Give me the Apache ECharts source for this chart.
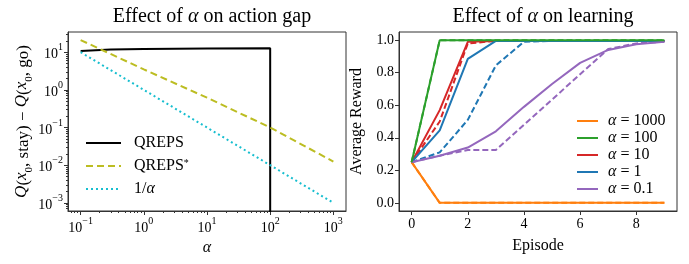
<!DOCTYPE html>
<html>
<head>
<meta charset="utf-8">
<script src="https://cdn.jsdelivr.net/npm/echarts@6/dist/echarts.min.js"></script>
<style>
html,body{margin:0;padding:0;background:#fff;}
#c{width:689px;height:264px;}
</style>
</head>
<body>
<div id="c"></div>
<script>
// ---------- Left panel data ----------
const gapAlpha = [0.1, 1, 10, 100, 1000];
const qrepsAlpha = [0.1, 0.3, 1, 10, 100, 100];
const qrepsGap = [10.8, 11.8, 12.2, 12.6, 12.8, 1e-9];
const qrepsStarGap = [21, 3.5, 0.62, 0.1, 0.0125];
const invAlphaGap = [10, 1, 0.1, 0.01, 0.001];
const leftXTicks = [0.1, 1, 10, 100, 1000];
const leftYTicks = [0.001, 0.01, 0.1, 1, 10];

// ---------- Right panel data ----------
const episodes = [0, 1, 2, 3, 4, 5, 6, 7, 8, 9];
const alphaLabels = ['1000', '100', '10', '1', '0.1'];
const solid1000 = [0.25, 0, 0, 0, 0, 0, 0, 0, 0, 0];
const dash1000  = [0.25, 0, 0, 0, 0, 0, 0, 0, 0, 0];
const solid100  = [0.25, 1, 1, 1, 1, 1, 1, 1, 1, 1];
const dash100   = [0.25, 1, 1, 1, 1, 1, 1, 1, 1, 1];
const solid10   = [0.25, 0.57, 0.99, 0.995, 0.995, 0.995, 0.995, 0.995, 0.995, 0.995];
const dash10    = [0.25, 0.50, 0.98, 0.995, 0.995, 0.995, 0.995, 0.995, 0.995, 0.995];
const solid1    = [0.25, 0.445, 0.885, 0.995, 0.995, 0.995, 0.995, 0.995, 0.995, 0.995];
const dash1     = [0.25, 0.31, 0.51, 0.845, 0.99, 0.995, 0.995, 0.995, 0.995, 0.995];
const solid01   = [0.25, 0.29, 0.34, 0.44, 0.59, 0.73, 0.86, 0.94, 0.975, 0.99];
const dash01    = [0.25, 0.29, 0.325, 0.325, 0.48, 0.635, 0.79, 0.945, 0.98, 0.99];
const rightYTicks = [0, 0.2, 0.4, 0.6, 0.8, 1.0];
const rightXTicks = [0, 2, 4, 6, 8];

const FONT = 'Liberation Serif';
const AX = '#333';

function minorTicks(lo, hi) {
  const out = [];
  for (let e = -5; e <= 5; e++) {
    for (let k = 2; k <= 9; k++) {
      const v = k * Math.pow(10, e);
      if (v > lo && v < hi) out.push(v);
    }
  }
  return out;
}
const xMin = Math.pow(10, -1.2), xMax = Math.pow(10, 3.2);
const yMin = Math.pow(10, -3.216), yMax = Math.pow(10, 1.536);

const supRich = {
  n: {fontFamily: FONT, fontSize: 14, color: '#000', verticalAlign: 'bottom', lineHeight: 19},
  s: {fontFamily: FONT, fontSize: 10, color: '#000', verticalAlign: 'top', lineHeight: 19}
};
function powLabel(v) {
  const e = Math.round(Math.log10(v));
  return '{n|10}{s|' + (e < 0 ? '\u2212' + (-e) : e) + '}';
}
const pairs = (xs, ys) => xs.map((x, i) => [x, ys[i]]);

const colors = ['#ff7f0e', '#2ca02c', '#d62728', '#1f77b4', '#9467bd'];
const solids = [solid1000, solid100, solid10, solid1, solid01];
const dashes = [dash1000, dash100, dash10, dash1, dash01];

const rightSeries = [];
const drawOrder = [0, 2, 3, 4, 1];
drawOrder.forEach(i => {
  rightSeries.push({
    type: 'line', name: 'a' + alphaLabels[i], xAxisIndex: 2, yAxisIndex: 2,
    data: pairs(episodes, dashes[i]), showSymbol: false, symbol: 'none',
    lineStyle: {color: colors[i], width: 2, type: [6, 3]}, itemStyle: {color: colors[i]},
    z: 3, animation: false, silent: true
  });
});
drawOrder.forEach(i => {
  rightSeries.push({
    type: 'line', name: '\u03b1' + alphaLabels[i], xAxisIndex: 2, yAxisIndex: 2,
    data: pairs(episodes, solids[i]), showSymbol: false, symbol: 'none',
    lineStyle: {color: colors[i], width: 2}, itemStyle: {color: colors[i]},
    z: i === 1 ? 5 : 4, animation: false, silent: true
  });
});

const chart = echarts.init(document.getElementById('c'), null, {renderer: 'canvas'});
chart.setOption({
  animation: false,
  backgroundColor: '#fff',
  title: [
    {text: 'Effect of {i|\u03b1} on action gap', left: 207, top: 2, textAlign: 'center',
     textStyle: {fontFamily: FONT, fontSize: 20, fontWeight: 'normal', color: '#000',
       rich: {i: {fontFamily: FONT, fontStyle: 'italic', fontSize: 20, color: '#000'}}}},
    {text: 'Effect of {i|\u03b1} on learning', left: 538, top: 2, textAlign: 'center',
     textStyle: {fontFamily: FONT, fontSize: 20, fontWeight: 'normal', color: '#000',
       rich: {i: {fontFamily: FONT, fontStyle: 'italic', fontSize: 20, color: '#000'}}}}
  ],
  grid: [
    {left: 68, top: 32, width: 278, height: 179, show: true, borderColor: AX, borderWidth: 1, backgroundColor: 'transparent'},
    {left: 399, top: 32, width: 278, height: 179, show: true, borderColor: AX, borderWidth: 1, backgroundColor: 'transparent'}
  ],
  legend: [
    {
      data: ['QREPS', 'QREPS*', '1/\u03b1'],
      orient: 'vertical', left: 80, top: 130, itemWidth: 35, itemHeight: 16, itemGap: 7, itemStyle: {opacity: 0},
      textStyle: {fontFamily: FONT, fontSize: 16, lineHeight: 16, color: '#000', padding: [0, 0, 0, 8],
        rich: {i: {fontFamily: FONT, fontStyle: 'italic', fontSize: 16, lineHeight: 16, color: '#000'},
               s: {fontFamily: FONT, fontSize: 10, color: '#000', verticalAlign: 'top', lineHeight: 16},
               n: {fontFamily: FONT, fontSize: 16, color: '#000', verticalAlign: 'bottom', lineHeight: 16}}},
      formatter: function (name) {
        if (name === 'QREPS*') return '{n|QREPS}{s|*}';
        if (name === '1/\u03b1') return '1/{i|\u03b1}';
        return name;
      },
      selectedMode: false
    },
    {
      data: alphaLabels.map(a => '\u03b1' + a),
      orient: 'vertical', left: 571, top: 108, itemWidth: 21, itemHeight: 14, itemGap: 1, itemStyle: {opacity: 0},
      textStyle: {fontFamily: FONT, fontSize: 16, lineHeight: 14, color: '#000', padding: [0, 0, 0, 5],
        rich: {i: {fontFamily: FONT, fontStyle: 'italic', fontSize: 16, lineHeight: 14, color: '#000'}}},
      formatter: function (name) { return '{i|\u03b1} = ' + name.slice(1); },
      selectedMode: false
    }
  ],
  xAxis: [
    {
      type: 'log', logBase: 10, gridIndex: 0, min: xMin, max: xMax,
      name: '\u03b1', nameLocation: 'middle', nameGap: 27,
      nameTextStyle: {fontFamily: FONT, fontSize: 16, fontStyle: 'italic', color: '#000'},
      axisLine: {show: true, lineStyle: {color: AX}},
      axisTick: {show: true, inside: false, length: 4, lineStyle: {color: AX}, customValues: leftXTicks},
      axisLabel: {customValues: leftXTicks, formatter: powLabel, rich: supRich, margin: 5},
      splitLine: {show: false}
    },
    {
      type: 'log', logBase: 10, gridIndex: 0, min: xMin, max: xMax, position: 'bottom',
      axisLine: {show: false},
      axisTick: {show: true, length: 2, lineStyle: {color: AX}, customValues: minorTicks(xMin, xMax)},
      axisLabel: {show: false}, splitLine: {show: false}
    },
    {
      type: 'value', gridIndex: 1, min: -0.45, max: 9.45,
      name: 'Episode', nameLocation: 'middle', nameGap: 27,
      nameTextStyle: {fontFamily: FONT, fontSize: 16, color: '#000'},
      axisLine: {show: true, onZero: false, lineStyle: {color: AX}},
      axisTick: {show: true, length: 4, lineStyle: {color: AX}, customValues: rightXTicks},
      axisLabel: {customValues: rightXTicks, fontFamily: FONT, fontSize: 14, color: '#000', margin: 6},
      splitLine: {show: false}
    }
  ],
  yAxis: [
    {
      type: 'log', logBase: 10, gridIndex: 0, min: yMin, max: yMax,
      name: '{i|Q}({i|x}{b|0}, stay) \u2212 {i|Q}({i|x}{b|0}, go)',
      nameLocation: 'middle', nameGap: 44, nameRotate: 90,
      nameTextStyle: {fontFamily: FONT, fontSize: 17, color: '#000', verticalAlign: 'top', lineHeight: 21,
        rich: {i: {fontFamily: FONT, fontStyle: 'italic', fontSize: 17, color: '#000', verticalAlign: 'top', lineHeight: 21},
               b: {fontFamily: FONT, fontSize: 11, color: '#000', verticalAlign: 'bottom', lineHeight: 21}}},
      axisLine: {show: true, lineStyle: {color: AX}},
      axisTick: {show: true, length: 4, lineStyle: {color: AX}, customValues: leftYTicks},
      axisLabel: {customValues: leftYTicks, formatter: powLabel, rich: supRich, margin: 5},
      splitLine: {show: false}
    },
    {
      type: 'log', logBase: 10, gridIndex: 0, min: yMin, max: yMax, position: 'left',
      axisLine: {show: false},
      axisTick: {show: true, length: 2, lineStyle: {color: AX}, customValues: minorTicks(yMin, yMax)},
      axisLabel: {show: false}, splitLine: {show: false}
    },
    {
      type: 'value', gridIndex: 1, min: -0.05, max: 1.05,
      name: 'Average Reward', nameLocation: 'middle', nameGap: 34, nameRotate: 90,
      nameTextStyle: {fontFamily: FONT, fontSize: 16, color: '#000'},
      axisLine: {show: true, onZero: false, lineStyle: {color: AX}},
      axisTick: {show: true, length: 4, lineStyle: {color: AX}, customValues: rightYTicks},
      axisLabel: {customValues: rightYTicks, fontFamily: FONT, fontSize: 14, color: '#000', margin: 5,
        formatter: v => v.toFixed(1)},
      splitLine: {show: false}
    }
  ],
  series: [
    {type: 'line', name: 'QREPS', xAxisIndex: 0, yAxisIndex: 0, data: pairs(qrepsAlpha, qrepsGap),
     showSymbol: false, symbol: 'none', lineStyle: {color: '#000', width: 2}, itemStyle: {color: '#000'}, z: 3},
    {type: 'line', name: 'QREPS*', xAxisIndex: 0, yAxisIndex: 0, data: pairs(gapAlpha, qrepsStarGap),
     showSymbol: false, symbol: 'none', lineStyle: {color: '#bcbd22', width: 2, type: [7, 4]}, itemStyle: {color: '#bcbd22'}, z: 3},
    {type: 'line', name: '1/\u03b1', xAxisIndex: 0, yAxisIndex: 0, data: pairs(gapAlpha, invAlphaGap),
     showSymbol: false, symbol: 'none', lineStyle: {color: '#17becf', width: 2, type: [2, 3]}, itemStyle: {color: '#17becf'}, z: 3}
  ].concat(rightSeries)
});
</script>
</body>
</html>
